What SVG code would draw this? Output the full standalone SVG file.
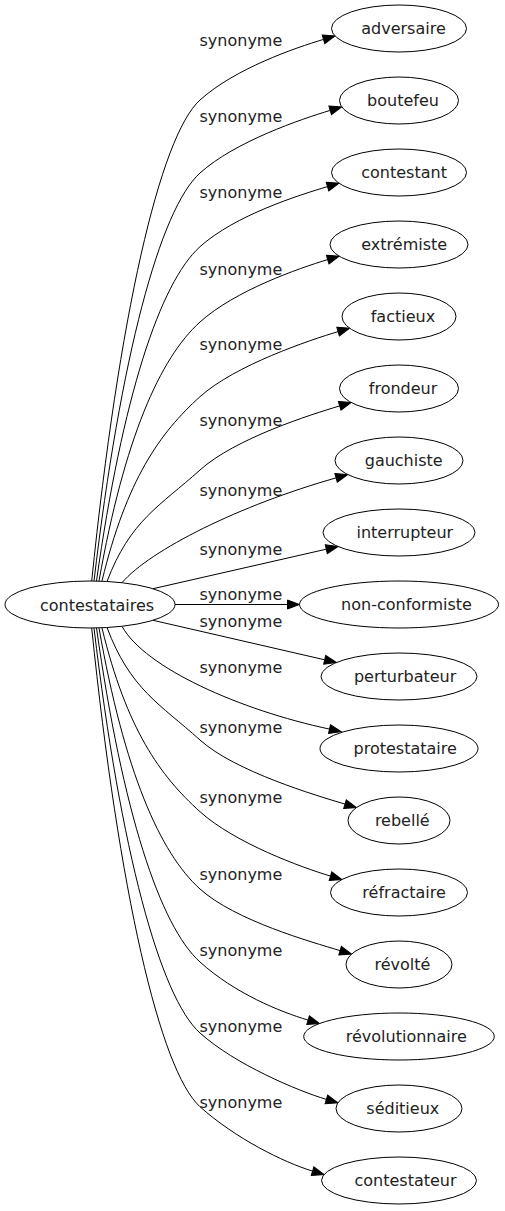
<svg xmlns="http://www.w3.org/2000/svg" width="505" height="1211" viewBox="0 0 505 1211">
<style>
.n ellipse{fill:#fff;stroke:#000;stroke-width:1}
text{font-family:"DejaVu Sans",Verdana,sans-serif;font-size:16px;fill:#222}
.n text{text-anchor:middle}
.e path{fill:none;stroke:#000;stroke-width:1;marker-end:url(#ah)}
.l text{text-anchor:start}
</style>
<defs>
<marker id="ah" markerUnits="userSpaceOnUse" markerWidth="13" markerHeight="10" refX="0" refY="4.5" orient="auto" overflow="visible">
<path d="M0,0 L12,4.5 L0,9 Z" fill="#000" stroke="#000" stroke-width="1"/>
</marker>
</defs>
<rect width="505" height="1211" fill="#fff"/>
<g id="edges" class="e">
<path d="M91.7,581 C118.8,316.4 160,136 200,100 C235,68.5 294.8,48 323.5,39.4"/>
<path d="M94,581 C120.5,356.6 160,209 200,173 C235,141.5 301.5,119 330.2,110.4"/>
<path d="M96.5,581 C122.4,397.1 160,282.7 200,246.7 C235,215.2 298.8,195.2 327.5,186.6"/>
<path d="M99,581 C124.25,438.55 160,358 200,322 C235,290.5 299,268.2 327.7,259.6"/>
<path d="M102,581 C126.5,479.6 160,432.7 200,396.7 C235,365.2 309.4,340.2 338.1,331.6"/>
<path d="M107,581.5 C130.25,520.2 160,506 200,470 C235,438.5 311,414.5 339.7,405.9"/>
<path d="M122,582.7 C150,550 240,505 336.1,477.9"/>
<path d="M153,588.7 L326.3,549.2"/>
<path d="M175,604.5 L287.5,604.5"/>
<path d="M153,620.3 L324.7,659.8"/>
<path d="M122,626.3 C145,668 240,710 329.5,729.1"/>
<path d="M107,627.5 C130.25,689.4 160,704 200,740 C235,771.5 316.3,795.5 345,804.1"/>
<path d="M102,628 C126.5,729 160,775.7 200,811.7 C235,843.2 301.8,867.5 330.5,876.1"/>
<path d="M99,628 C124.25,771.55 160,853 200,889 C235,920.5 311.4,942 340.1,950.6"/>
<path d="M96.5,628 C122.4,811.7 160,926 200,962 C235,993.5 279.4,1011.5 308.1,1020.1"/>
<path d="M94,628 C120.5,850.75 160,997 200,1033 C235,1064.5 297.7,1090.8 326.4,1099.4"/>
<path d="M91.7,628 C118.8,891.2 160,1070.7 200,1106.7 C235,1138.2 283.9,1162.5 312.6,1171.1"/>
</g>
<g id="labels" class="l">
<text x="199.5" y="45.7">synonyme</text>
<text x="199.5" y="121.7">synonyme</text>
<text x="199.5" y="198.3">synonyme</text>
<text x="199.5" y="275">synonyme</text>
<text x="199.5" y="350">synonyme</text>
<text x="199.5" y="426">synonyme</text>
<text x="199.5" y="496">synonyme</text>
<text x="199.5" y="555">synonyme</text>
<text x="199.5" y="600">synonyme</text>
<text x="199.5" y="627.3">synonyme</text>
<text x="199.5" y="673.3">synonyme</text>
<text x="199.5" y="733.3">synonyme</text>
<text x="199.5" y="803.3">synonyme</text>
<text x="199.5" y="880">synonyme</text>
<text x="199.5" y="956">synonyme</text>
<text x="199.5" y="1031.7">synonyme</text>
<text x="199.5" y="1108.3">synonyme</text>
</g>
<g id="contestataires" class="n"><ellipse cx="90" cy="604.5" rx="85" ry="23.5"/><text x="97" y="610.5">contestataires</text></g>
<g id="adversaire" class="n"><ellipse cx="399" cy="28.5" rx="67.5" ry="23.5"/><text x="403.5" y="34.3">adversaire</text></g>
<g id="boutefeu" class="n"><ellipse cx="399" cy="100.5" rx="59.5" ry="23.5"/><text x="403" y="106.3">boutefeu</text></g>
<g id="contestant" class="n"><ellipse cx="399" cy="172.5" rx="67.5" ry="23.5"/><text x="404.1" y="178.3">contestant</text></g>
<g id="extremiste" class="n"><ellipse cx="399" cy="244.5" rx="69" ry="23.5"/><text x="404.2" y="250.3">extrémiste</text></g>
<g id="factieux" class="n"><ellipse cx="399" cy="316.5" rx="57" ry="23.5"/><text x="402.9" y="322.3">factieux</text></g>
<g id="frondeur" class="n"><ellipse cx="399" cy="388.5" rx="59.5" ry="23.5"/><text x="403.1" y="394.3">frondeur</text></g>
<g id="gauchiste" class="n"><ellipse cx="399" cy="460.5" rx="64" ry="23.5"/><text x="403.7" y="466.3">gauchiste</text></g>
<g id="interrupteur" class="n"><ellipse cx="399" cy="532.5" rx="76" ry="23.5"/><text x="404.8" y="538.3">interrupteur</text></g>
<g id="non-conformiste" class="n"><ellipse cx="399" cy="604.5" rx="99.5" ry="23.5"/><text x="406.5" y="610.3">non-conformiste</text></g>
<g id="perturbateur" class="n"><ellipse cx="399" cy="676.5" rx="78" ry="23.5"/><text x="405.1" y="682.3">perturbateur</text></g>
<g id="protestataire" class="n"><ellipse cx="399" cy="748.5" rx="79" ry="23.5"/><text x="405.2" y="754.3">protestataire</text></g>
<g id="rebelle" class="n"><ellipse cx="399" cy="820.5" rx="51" ry="23.5"/><text x="402.3" y="826.3">rebellé</text></g>
<g id="refractaire" class="n"><ellipse cx="399" cy="892.5" rx="68.5" ry="23.5"/><text x="404.1" y="898.3">réfractaire</text></g>
<g id="revolte" class="n"><ellipse cx="399" cy="964.5" rx="53" ry="23.5"/><text x="402.4" y="970.3">révolté</text></g>
<g id="revolutionnaire" class="n"><ellipse cx="399" cy="1036.5" rx="95.3" ry="23.5"/><text x="406.3" y="1042.3">révolutionnaire</text></g>
<g id="seditieux" class="n"><ellipse cx="399" cy="1108.5" rx="63" ry="23.5"/><text x="402.8" y="1114.3">séditieux</text></g>
<g id="contestateur" class="n"><ellipse cx="399" cy="1180.5" rx="77.5" ry="23.5"/><text x="405.5" y="1186.3">contestateur</text></g>
</svg>
